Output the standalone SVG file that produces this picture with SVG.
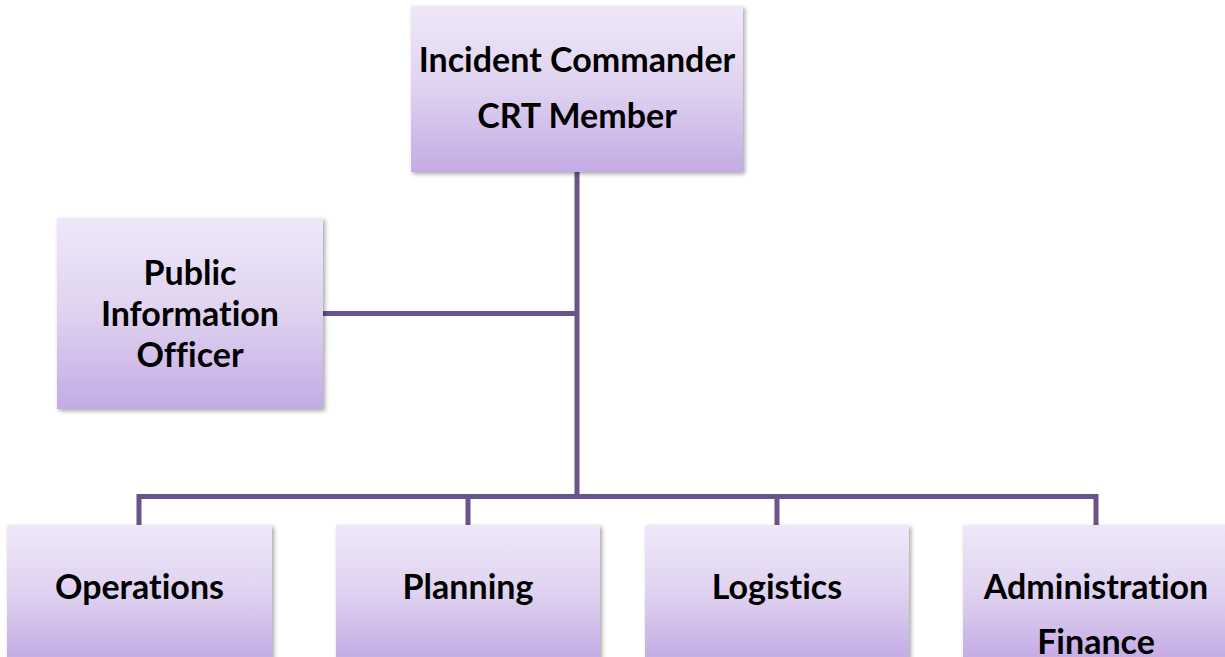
<svg xmlns="http://www.w3.org/2000/svg" width="1225" height="657" viewBox="0 0 1225 657">
<style>
.box{fill:url(#g);filter:url(#sh)}
.t{font-family:Lato,"Liberation Sans",sans-serif;font-weight:700;font-size:34px;fill:#000;text-anchor:middle;font-variant-ligatures:none;font-feature-settings:"liga" 0}
.c{fill:none;stroke:#68548a;stroke-width:5;stroke-linecap:butt;stroke-linejoin:miter}
</style>
<defs>
<linearGradient id="g" x1="0" y1="0" x2="0" y2="1">
<stop offset="0" stop-color="#efe8f8"/>
<stop offset="0.5" stop-color="#dfd2f0"/>
<stop offset="1" stop-color="#c4abe5"/>
</linearGradient>
<filter id="sh" x="-10%" y="-10%" width="120%" height="120%">
<feDropShadow dx="2" dy="2" stdDeviation="2" flood-color="#000" flood-opacity="0.35"/>
</filter>
</defs>
<rect width="1225" height="657" fill="#fff"/>
<g id="connectors">
<path class="c" d="M577,172 V496.5 M323,313.5 H577 M139,525 V496.5 H1096 V525 M468,496.5 V525 M777,496.5 V525"/>
</g>
<g id="incident-commander">
<rect class="box" x="411" y="6" width="332" height="166"/>
<text class="t" x="577" y="72">Incident Commander</text>
<text class="t" x="577" y="128">CRT Member</text>
</g>
<g id="public-information-officer">
<rect class="box" x="57" y="218" width="266" height="191"/>
<text class="t" x="190" y="285">Public</text>
<text class="t" x="190" y="326">Information</text>
<text class="t" x="190" y="367">Officer</text>
</g>
<g id="operations">
<rect class="box" x="7" y="525" width="265" height="135"/>
<text class="t" x="139.5" y="599">Operations</text>
</g>
<g id="planning">
<rect class="box" x="336" y="525" width="264" height="135"/>
<text class="t" x="468" y="599">Planning</text>
</g>
<g id="logistics">
<rect class="box" x="645" y="525" width="264" height="135"/>
<text class="t" x="777" y="599">Logistics</text>
</g>
<g id="administration-finance">
<rect class="box" x="963" y="525" width="266" height="135"/>
<text class="t" x="1096" y="599">Administration</text>
<text class="t" x="1096" y="654">Finance</text>
</g>
</svg>
